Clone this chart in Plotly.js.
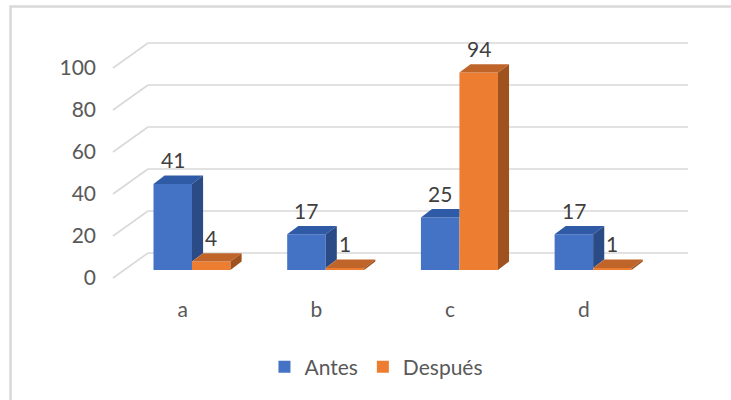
<!DOCTYPE html>
<html>
<head>
<meta charset="utf-8">
<script src="https://cdn.plot.ly/plotly-3.0.1.min.js"></script>
<style>
  html, body { margin: 0; padding: 0; background: #ffffff; }
  #chart { width: 731px; height: 400px; }
</style>
</head>
<body>
<div id="chart"></div>
<script>
// Data
const categories = ['a', 'b', 'c', 'd'];
const antes = [41, 17, 25, 17];
const despues = [4, 1, 94, 1];
const seriesNames = ['Antes', 'Después'];
const yTicks = [0, 20, 40, 60, 80, 100];

// Colours: front, top and side of each 3D column
const BLUE = { front: '#4472C4', top: '#2F5AA6', side: '#2A4B86' };
const ORANGE = { front: '#ED7D31', top: '#C0652A', side: '#A0521E' };

// Oblique projection geometry (x in category units, y in value units)
const BAR_W = 0.288;      // width of one column front face
const DX = 0.083;         // depth offset along x
const DY = 4.0;           // depth offset along y
const WALL_BACK_X = -0.329;
const WALL_FRONT_X = -0.591;
const WALL_RIGHT_X = 3.71;
const WALL_BACK_DY = 8.1;
const FRONT_DY = -3.8;
const LABEL_DX = -0.07;

const FONT = 'Lato, "Open Sans", "Liberation Sans", sans-serif';

function poly(xs, ys, color) {
  return {
    type: 'scatter', mode: 'lines', x: xs, y: ys,
    fill: 'toself', fillcolor: color,
    line: { width: 0, color: color },
    hoverinfo: 'skip', showlegend: false
  };
}

const traces = [
  {
    type: 'bar', name: seriesNames[0],
    x: categories.map((c, i) => i - BAR_W / 2), y: antes, width: BAR_W, base: 0,
    marker: { color: BLUE.front, line: { width: 0 } }, hoverinfo: 'skip'
  },
  {
    type: 'bar', name: seriesNames[1],
    x: categories.map((c, i) => i + BAR_W / 2), y: despues, width: BAR_W, base: 0,
    marker: { color: ORANGE.front, line: { width: 0 } }, hoverinfo: 'skip'
  }
];

// Top and side faces of every column
categories.forEach((c, i) => {
  const vb = antes[i], vo = despues[i];
  const bx0 = i - BAR_W, bx1 = i;
  if (vo > vb) {
    // the orange column hides the back-right part of the blue top
    traces.push(poly([bx0, bx1, bx1, bx0 + DX, bx0], [vb, vb, vb + DY, vb + DY, vb], BLUE.top));
  } else {
    traces.push(poly([bx0, bx1, bx1 + DX, bx0 + DX, bx0], [vb, vb, vb + DY, vb + DY, vb], BLUE.top));
    traces.push(poly([bx1, bx1, bx1 + DX, bx1 + DX, bx1], [vo, vb, vb + DY, vo + DY, vo], BLUE.side));
  }
  const ox0 = i, ox1 = i + BAR_W;
  traces.push(poly([ox0, ox1, ox1 + DX, ox0 + DX, ox0], [vo, vo, vo + DY, vo + DY, vo], ORANGE.top));
  traces.push(poly([ox1, ox1, ox1 + DX, ox1 + DX, ox1], [0, vo, vo + DY, DY, 0], ORANGE.side));
});

// Back wall gridlines and their receding edges on the left
const shapes = [];
yTicks.forEach(v => {
  shapes.push({
    type: 'line', layer: 'below', xref: 'x', yref: 'y',
    x0: WALL_BACK_X, x1: WALL_RIGHT_X, y0: v + WALL_BACK_DY, y1: v + WALL_BACK_DY,
    line: { color: '#D9D9D9', width: 1.6 }
  });
  shapes.push({
    type: 'line', layer: 'below', xref: 'x', yref: 'y',
    x0: WALL_FRONT_X, x1: WALL_BACK_X, y0: v + FRONT_DY, y1: v + WALL_BACK_DY,
    line: { color: '#D9D9D9', width: 1.6 }
  });
});
// Chart area border
shapes.push({
  type: 'rect', layer: 'below', xref: 'paper', yref: 'paper',
  x0: -0.1418, x1: 1.2, y0: -0.6, y1: 0.978,
  line: { color: '#D9D9D9', width: 2.5 }, fillcolor: 'rgba(0,0,0,0)'
});

// Value labels above each column
const annotations = [];
categories.forEach((c, i) => {
  [[antes[i], i - BAR_W / 2], [despues[i], i + BAR_W / 2]].forEach(([v, x]) => {
    annotations.push({
      x: x, y: v, xref: 'x', yref: 'y', text: String(v), showarrow: false,
      yshift: 24, yanchor: 'middle', xanchor: 'center',
      font: { family: FONT, size: 21, color: '#404040' }
    });
  });
});

const layout = {
  width: 731, height: 400,
  margin: { l: 100, r: 0, t: 0, b: 105, pad: 0 },
  paper_bgcolor: '#ffffff', plot_bgcolor: 'rgba(0,0,0,0)',
  showlegend: true,
  legend: {
    orientation: 'h', xref: 'container', yref: 'container',
    x: 0.515, xanchor: 'center', y: 0.0825, yanchor: 'middle',
    font: { family: FONT, size: 21, color: '#595959' },
    bgcolor: 'rgba(0,0,0,0)', traceorder: 'normal'
  },
  xaxis: {
    range: [-0.688, 4.031], showgrid: false, zeroline: false, showline: false,
    tickmode: 'array', tickvals: categories.map((c, i) => i + LABEL_DX), ticktext: categories,
    ticks: '', tickfont: { family: FONT, size: 21, color: '#595959' }, fixedrange: true
  },
  yaxis: {
    range: [-11.9, 128.57], showgrid: false, zeroline: false, showline: false,
    tickmode: 'array', tickvals: yTicks.map(v => v + FRONT_DY), ticktext: yTicks.map(String),
    ticks: '', ticklabelstandoff: 3,
    tickfont: { family: FONT, size: 21, color: '#595959' }, fixedrange: true
  },
  shapes: shapes,
  annotations: annotations
};

Plotly.newPlot('chart', traces, layout, { displayModeBar: false, staticPlot: true });
</script>
</body>
</html>
